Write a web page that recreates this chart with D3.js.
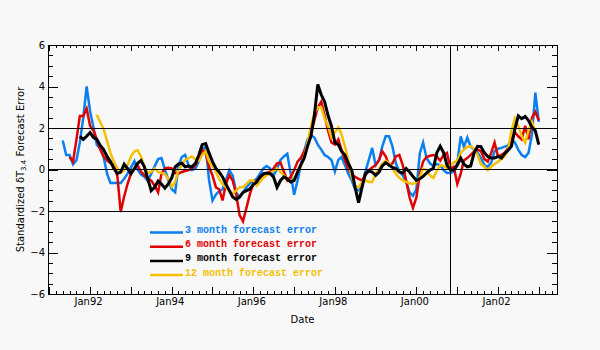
<!DOCTYPE html>
<html>
<head>
<meta charset="utf-8">
<script src="https://cdn.jsdelivr.net/npm/d3@7"></script>
<style>
body { margin: 0; background: #f8f8f8; }
</style>
</head>
<body>
<script>
// monthly standardized forecast errors
var start3 = "1991-05", start6 = "1991-07", start9 = "1991-10", start12 = "1992-03";

var err3 = [1.4, 0.7, 0.7, 0.25, 0.45, 1.3, 2.5, 4.0,
  2.8, 2.0, 1.2, 1.0, 0.6, -0.2, -0.65, -0.65, -0.65, -0.65,
  -0.45, -0.2, 0.1, 0.4, 0.0, -0.25, -0.35, -0.55, -0.2, 0.15,
  0.5, 0.55, 0.0, -0.5, -0.95, -1.1, 0.15, 0.6, 0.7, 0.2,
  -0.03, 0.05, 0.4, 0.96, 1.1, -0.5, -1.5, -1.2, -1.05, -0.95,
  -0.5, -0.03, -0.3, -1.1, -1.35, -1.1, -0.86, -0.66, -0.56, -0.45,
  -0.2, 0.05, 0.17, 0.05, -0.3, 0.05, 0.46, 0.63, 0.76, -0.2,
  -1.22, -0.53, 0.21, 0.88, 1.45, 1.65, 1.54, 1.2, 0.96, 0.7,
  0.6, 0.46, -0.1, 0.46, 0.6, 0.21, -0.2, -0.53, -0.95, -1.0,
  -0.7, -0.1, 0.46, 1.04, 0.21, 0.46, 1.1, 1.6, 1.6, 1.1,
  0.3, -0.1, -0.28, -0.6, -1.1, -1.27, -0.95, 0.8, 1.3, 0.55,
  0.3, 0.17, 0.26, 0.21, -0.03, -0.17, -0.17, -0.1, 0.3, 1.6,
  1.1, 1.54, 1.1, 0.96, 0.83, 0.55, 0.21, 0.13, 0.33, 0.88,
  1.0, 1.04, 1.1, 1.16, 1.45, 1.3, 0.96, 0.7, 0.6, 0.8,
  1.7, 3.7, 2.3];

var err6 = [0.6, 0.38, 1.45, 2.58, 2.58, 2.94,
  2.1, 1.87, 1.45, 0.96, 0.63, 0.43, 0.3, 0.21, -0.3, -2.05,
  -1.3, -0.7, -0.2, 0.05, 0.21, -0.1, -0.28, -0.45, -0.53, -0.78,
  -1.1, -0.2, 0.05, 0.08, 0.05, -0.17, -0.2, -0.12, -0.07, -0.03,
  0.05, 0.21, 0.55, 0.96, 0.8, 0.13, -0.28, -0.86, -0.95, -1.49,
  -0.7, -0.28, -0.53, -1.2, -2.2, -2.5, -1.85, -1.2, -0.7, -0.53,
  -0.4, -0.28, -0.2, -0.1, 0.05, 0.3, 0.33, -0.1, -0.53, -0.36,
  -0.03, 0.38, 0.55, 0.88, 1.2, 1.8, 2.36, 3.0, 3.27, 2.6,
  1.87, 1.3, 1.2, 1.45, 0.96, 0.46, 0.05, -0.23, -0.36, -0.45,
  -0.53, -0.28, -0.03, 0.1, 0.21, 0.46, 0.88, 0.63, 0.21, 0.3,
  0.63, 0.7, 0.21, -0.53, -1.35, -1.85, -1.35, -0.2, 0.38, 0.6,
  0.66, 0.7, 0.63, 0.43, 0.7, 0.8, 0.05, 0.13, -0.7, -0.2,
  0.43, 0.55, 0.7, 0.88, 0.96, 0.88, 0.5, 0.38, 0.8, 1.3,
  0.63, 0.7, 0.8, 1.04, 1.45, 1.8, 1.6, 1.45, 2.1, 1.45,
  2.5, 2.78, 2.36];

var err9 = [1.6, 1.45, 1.6,
  1.78, 1.54, 1.45, 1.16, 0.96, 0.63, 0.38, 0.05, -0.2, -0.12,
  0.26, 0.05, -0.2, 0.05, 0.3, 0.43, 0.13, -0.45, -1.02, -0.86,
  -0.56, -0.7, -0.9, -0.7, -0.4, 0.13, 0.26, 0.3, 0.13, 0.17,
  0.13, 0.3, 0.7, 1.2, 1.25, 0.8, 0.38, 0.05, -0.12, -0.36,
  -0.7, -1.02, -1.32, -1.44, -1.32, -1.1, -1.02, -0.95, -0.73, -0.6,
  -0.36, -0.2, -0.17, -0.2, -0.36, -0.86, -0.53, -0.36, -0.45, -0.6,
  -0.53, -0.12, 0.21, 0.55, 1.12, 1.62, 2.6, 4.1, 3.6, 3.27,
  2.6, 2.1, 1.3, 1.2, 0.88, 0.7, 0.3, -0.03, -0.86, -1.6,
  -0.86, -0.2, -0.07, -0.12, -0.28, -0.12, 0.17, 0.33, 0.21, 0.1,
  0.05, -0.12, -0.17, 0.05, -0.12, -0.33, -0.53, -0.45, -0.33, -0.17,
  -0.03, 0.05, 0.8, 1.12, 0.8, 0.21, -0.03, -0.03, 0.21, 0.55,
  0.26, 0.13, 0.17, 0.8, 1.12, 1.1, 0.8, 0.63, 0.55, 0.55,
  0.63, 0.55, 0.76, 0.93, 1.12, 1.95, 2.58, 2.45, 2.56, 2.36,
  2.03, 1.87, 1.2];

var err12 = [2.64, 2.28, 1.95, 1.37, 0.8, 0.38, 0.05, -0.17,
  -0.03, 0.21, 0.63, 0.88, 0.93, 0.63, 0.13, -0.17, -0.12, 0.05,
  -0.12, -0.17, -0.23, -0.45, -0.83, -0.6, -0.03, 0.21, 0.46, 0.55,
  0.63, 0.5, 0.43, 0.7, 0.88, 0.38, 0.17, -0.12, -0.45, -0.7,
  -0.86, -1.02, -1.16, -1.02, -0.86, -0.86, -0.7, -0.53, -0.53, -0.78,
  -0.6, -0.4, -0.28, -0.17, -0.07, 0.05, -0.12, -0.28, -0.45, -0.53,
  -0.45, -0.12, 0.13, 0.63, 1.3, 2.1, 2.7, 3.0, 3.0, 2.45,
  2.1, 1.54, 1.8, 2.03, 1.7, 1.12, 0.46, -0.36, -0.78, -0.86,
  -0.6, -0.53, -0.6, -0.6, -0.2, 0.05, 0.26, 0.43, 0.3, 0.05,
  -0.2, -0.4, -0.53, -0.6, -0.66, -0.7, -0.6, -0.36, 0.05, -0.03,
  -0.28, -0.4, -0.07, 0.21, 0.17, 0.05, 0.21, 0.33, 0.43, 0.8,
  0.96, 1.1, 1.12, 1.0, 0.7, 0.26, 0.13, -0.03, 0.13, 0.26,
  0.38, 0.5, 0.63, 0.96, 1.87, 2.45, 2.1, 1.62, 1.3, 1.87,
  2.28, 1.8];

var seriesNames = ["3 month forecast error", "6 month forecast error",
                   "9 month forecast error", "12 month forecast error"];
var seriesColors = ["#0a7ff0", "#e00000", "#000000", "#f5c000"];
var yMajor = [-6, -4, -2, 0, 2, 4, 6];
var yLines = [-2, 0, 2];
var markDate = "2000-11";

var width = 600, height = 350;
// plot frame (note: "top" is reserved on window, so prefix these)
var pLeft = 48, pRight = 557, pTop = 45, pBottom = 294;

var parseMonth = d3.timeParse("%Y-%m");

function toPoints(start, vals) {
  var s = parseMonth(start);
  return vals.map(function (v, i) { return { date: d3.timeMonth.offset(s, i), v: v }; });
}

var series = [
  { name: seriesNames[0], color: seriesColors[0], pts: toPoints(start3, err3), w: 2.5 },
  { name: seriesNames[1], color: seriesColors[1], pts: toPoints(start6, err6), w: 2.5 },
  { name: seriesNames[2], color: seriesColors[2], pts: toPoints(start9, err9), w: 3 },
  { name: seriesNames[3], color: seriesColors[3], pts: toPoints(start12, err12), w: 2.5 }
];

var svg = d3.select("body").append("svg")
  .attr("width", width).attr("height", height)
  .style("background", "#f8f8f8")
  .style("font-family", "'DejaVu Sans', sans-serif");

var x = d3.scaleTime()
  .domain([new Date(1990, 11, 20), new Date(2003, 5, 13)])
  .range([pLeft, pRight]);
var y = d3.scaleLinear().domain([-6, 6]).range([pBottom, pTop]);

// data lines
var line = d3.line().x(function (d) { return x(d.date); }).y(function (d) { return y(d.v); });
var drawOrder = [0, 1, 3, 2];
drawOrder.forEach(function (i) {
  var s = series[i];
  svg.append("path").datum(s.pts)
    .attr("d", line)
    .attr("fill", "none")
    .attr("stroke", s.color)
    .attr("stroke-width", s.w)
    .attr("stroke-linejoin", "miter");
});

// reference lines
svg.selectAll(".hline").data(yLines).enter().append("line")
  .attr("x1", pLeft).attr("x2", pRight)
  .attr("y1", function (d) { return y(d); }).attr("y2", function (d) { return y(d); })
  .attr("stroke", "#000").attr("stroke-width", 1)
  .attr("shape-rendering", "crispEdges");

svg.append("line")
  .attr("x1", x(parseMonth(markDate))).attr("x2", x(parseMonth(markDate)))
  .attr("y1", pTop).attr("y2", pBottom)
  .attr("stroke", "#000").attr("stroke-width", 1)
  .attr("shape-rendering", "crispEdges");

// axes, ticks pointing inward
var fmt = d3.timeFormat("%b%y");
function styleAxis(g) {
  g.select(".domain").remove();
  g.selectAll(".tick line").attr("stroke", "#000").attr("shape-rendering", "crispEdges");
  g.selectAll("text").attr("font-size", 10).attr("fill", "#000")
    .attr("font-family", "'DejaVu Sans', sans-serif");
}

svg.append("g").attr("transform", "translate(0," + pBottom + ")")
  .call(d3.axisBottom(x).ticks(d3.timeMonth.every(2)).tickSize(-3).tickFormat(""))
  .call(styleAxis);
svg.append("g").attr("transform", "translate(0," + pBottom + ")")
  .call(d3.axisBottom(x).ticks(d3.timeYear.every(1)).tickSize(-7).tickPadding(4)
    .tickFormat(function (d) { return d.getFullYear() % 2 === 0 ? fmt(d) : ""; }))
  .call(styleAxis)
  .selectAll("text").attr("dx", -2);

svg.append("g").attr("transform", "translate(0," + pTop + ")")
  .call(d3.axisTop(x).ticks(d3.timeMonth.every(2)).tickSize(-3).tickFormat(""))
  .call(styleAxis);
svg.append("g").attr("transform", "translate(0," + pTop + ")")
  .call(d3.axisTop(x).ticks(d3.timeYear.every(1)).tickSize(-6).tickFormat(""))
  .call(styleAxis);

var yMinor = d3.range(-6, 6.01, 0.5);
svg.append("g").attr("transform", "translate(" + pLeft + ",0)")
  .call(d3.axisLeft(y).tickValues(yMinor).tickSize(-5).tickFormat(""))
  .call(styleAxis);
svg.append("g").attr("transform", "translate(" + pLeft + ",0)")
  .call(d3.axisLeft(y).tickValues(yMajor).tickSize(-10).tickPadding(3)
    .tickFormat(function (d) { return d < 0 ? "\u2212" + Math.abs(d) : d; }))
  .call(styleAxis);
svg.append("g").attr("transform", "translate(" + pRight + ",0)")
  .call(d3.axisRight(y).tickValues(yMinor).tickSize(-5).tickFormat(""))
  .call(styleAxis);
svg.append("g").attr("transform", "translate(" + pRight + ",0)")
  .call(d3.axisRight(y).tickValues(yMajor).tickSize(-10).tickFormat(""))
  .call(styleAxis);

// frame
svg.append("rect")
  .attr("x", pLeft).attr("y", pTop)
  .attr("width", pRight - pLeft).attr("height", pBottom - pTop)
  .attr("fill", "none").attr("stroke", "#000").attr("stroke-width", 1)
  .attr("shape-rendering", "crispEdges");

// titles
svg.append("text")
  .attr("x", (pLeft + pRight) / 2).attr("y", 323)
  .attr("text-anchor", "middle").attr("font-size", 10)
  .text("Date");

var yt = svg.append("text")
  .attr("transform", "translate(24," + ((pTop + pBottom) / 2) + ") rotate(-90)")
  .attr("text-anchor", "middle").attr("font-size", 10);
yt.append("tspan").text("Standardized \u03B4T");
yt.append("tspan").attr("font-size", 7).attr("dy", 2).text("3.4");
yt.append("tspan").attr("dy", -2).text(" Forecast Error");

// legend
var legend = svg.append("g");
series.forEach(function (s, i) {
  var ly = 232.5 + i * 14.2;
  legend.append("line")
    .attr("x1", 150).attr("x2", 183)
    .attr("y1", ly).attr("y2", ly)
    .attr("stroke", s.color).attr("stroke-width", 2.5);
  legend.append("text")
    .attr("x", 185).attr("y", ly + 0.5)
    .attr("font-family", "'Liberation Mono', monospace")
    .attr("font-weight", "bold")
    .attr("font-size", 10)
    .attr("fill", s.color)
    .text(s.name);
});
</script>
</body>
</html>
